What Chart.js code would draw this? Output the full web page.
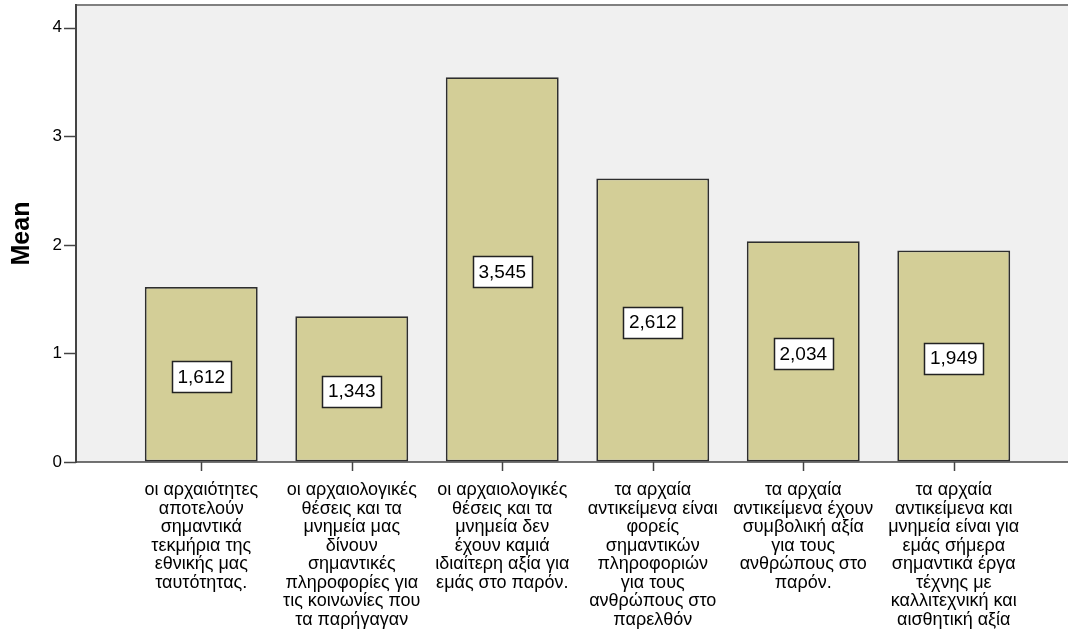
<!DOCTYPE html>
<html>
<head>
<meta charset="utf-8">
<script src="https://cdn.jsdelivr.net/npm/chart.js@4/dist/chart.umd.min.js"></script>
<style>
html,body{margin:0;padding:0;background:#fff;}
#wrap{width:1068px;height:632px;}
</style>
</head>
<body>
<div id="wrap"><canvas id="c" width="1068" height="632"></canvas></div>
<script>
const categories = [
  ['οι αρχαιότητες','αποτελούν','σημαντικά','τεκμήρια της','εθνικής μας','ταυτότητας.'],
  ['οι αρχαιολογικές','θέσεις και τα','μνημεία μας','δίνουν','σημαντικές','πληροφορίες για','τις κοινωνίες που','τα παρήγαγαν'],
  ['οι αρχαιολογικές','θέσεις και τα','μνημεία δεν','έχουν καμιά','ιδιαίτερη αξία για','εμάς στο παρόν.'],
  ['τα αρχαία','αντικείμενα είναι','φορείς','σημαντικών','πληροφοριών','για τους','ανθρώπους στο','παρελθόν'],
  ['τα αρχαία','αντικείμενα έχουν','συμβολική αξία','για τους','ανθρώπους στο','παρόν.'],
  ['τα αρχαία','αντικείμενα και','μνημεία είναι για','εμάς σήμερα','σημαντικά έργα','τέχνης με','καλλιτεχνική και','αισθητική αξία']
];
const meanValues = [1.612, 1.343, 3.545, 2.612, 2.034, 1.949];
const valueLabels = ['1,612', '1,343', '3,545', '2,612', '2,034', '1,949'];
const yTicks = [0, 1, 2, 3, 4];

const FONT = "'Liberation Sans', Arial, sans-serif";
const PLOT_LEFT = 76;

const framePlugin = {
  id: 'frame',
  beforeDraw(chart) {
    const {ctx, chartArea} = chart;
    ctx.save();
    ctx.fillStyle = '#f0f0f0';
    ctx.fillRect(PLOT_LEFT, chartArea.top, chart.width - PLOT_LEFT, chartArea.bottom - chartArea.top);
    ctx.restore();
  },
  afterDatasetsDraw(chart) {
    const {ctx, chartArea, scales} = chart;
    const y = scales.y, x = scales.x;
    ctx.save();
    ctx.strokeStyle = '#808080';
    ctx.lineWidth = 2;
    ctx.beginPath();
    ctx.moveTo(PLOT_LEFT, chartArea.top);
    ctx.lineTo(chart.width, chartArea.top);
    ctx.stroke();
    ctx.strokeStyle = '#444';
    ctx.lineWidth = 2;
    ctx.beginPath();
    ctx.moveTo(PLOT_LEFT, chartArea.top - 1);
    ctx.lineTo(PLOT_LEFT, chartArea.bottom + 1);
    ctx.stroke();
    ctx.lineWidth = 1.5;
    ctx.beginPath();
    ctx.moveTo(PLOT_LEFT, chartArea.bottom);
    ctx.lineTo(chart.width, chartArea.bottom);
    ctx.stroke();
    yTicks.forEach(v => {
      const py = Math.round(y.getPixelForValue(v)) + 0.5;
      ctx.beginPath();
      ctx.moveTo(PLOT_LEFT - 12, py);
      ctx.lineTo(PLOT_LEFT, py);
      ctx.stroke();
    });
    categories.forEach((c, i) => {
      const px = Math.round(x.getPixelForValue(i)) + 0.5;
      ctx.beginPath();
      ctx.moveTo(px, chartArea.bottom);
      ctx.lineTo(px, chartArea.bottom + 9);
      ctx.stroke();
    });
    ctx.font = '19px ' + FONT;
    ctx.textAlign = 'center';
    ctx.textBaseline = 'middle';
    meanValues.forEach((v, i) => {
      const cx = x.getPixelForValue(i);
      const cy = y.getPixelForValue(v / 2) + 2;
      const t = valueLabels[i];
      const w = Math.round(ctx.measureText(t).width + 11);
      const h = 31;
      const bx = Math.round(cx - w / 2) + 0.5, by = Math.round(cy - h / 2) + 0.5;
      ctx.fillStyle = '#fff';
      ctx.fillRect(bx, by, w, h);
      ctx.strokeStyle = '#222';
      ctx.lineWidth = 1.5;
      ctx.strokeRect(bx, by, w, h);
      ctx.fillStyle = '#000';
      ctx.fillText(t, cx, cy + 1);
    });
    ctx.restore();
  }
};

new Chart(document.getElementById('c'), {
  type: 'bar',
  data: {
    labels: categories,
    datasets: [{
      data: meanValues,
      backgroundColor: '#d3ce97',
      borderColor: '#2e2e2e',
      borderWidth: 1.8,
      borderSkipped: false,
      barPercentage: 0.75,
      categoryPercentage: 1.0
    }]
  },
  options: {
    responsive: false,
    animation: false,
    events: [],
    layout: { padding: { top: 5, right: 39, left: 0, bottom: 0 } },
    plugins: { legend: { display: false }, tooltip: { enabled: false } },
    scales: {
      x: {
        type: 'category',
        offset: true,
        grid: { display: true, drawOnChartArea: false, drawTicks: true, tickLength: 19, color: 'rgba(0,0,0,0)' },
        border: { display: false },
        ticks: {
          autoSkip: false, maxRotation: 0, minRotation: 0,
          color: '#000', padding: 0,
          font: { family: FONT, size: 18, lineHeight: '18.5px' }
        },
        afterFit(s) { s.height = 170; }
      },
      y: {
        min: 0, max: 4.21,
        afterBuildTicks(s) { s.ticks = yTicks.map(v => ({ value: v })); },
        grid: { display: true, drawOnChartArea: false, drawTicks: true, tickLength: 64, color: 'rgba(0,0,0,0)' },
        border: { display: false },
        ticks: {
          color: '#000', padding: 0,
          font: { family: FONT, size: 17, lineHeight: 0.5 },
          callback: v => String(v)
        },
        title: {
          display: true, text: 'Mean', color: '#000',
          font: { family: FONT, size: 25, weight: 'bold' },
          padding: { top: 7, bottom: 0 }
        },
        afterFit(s) { s.width = 126; }
      }
    }
  },
  plugins: [framePlugin]
});
</script>
</body>
</html>
